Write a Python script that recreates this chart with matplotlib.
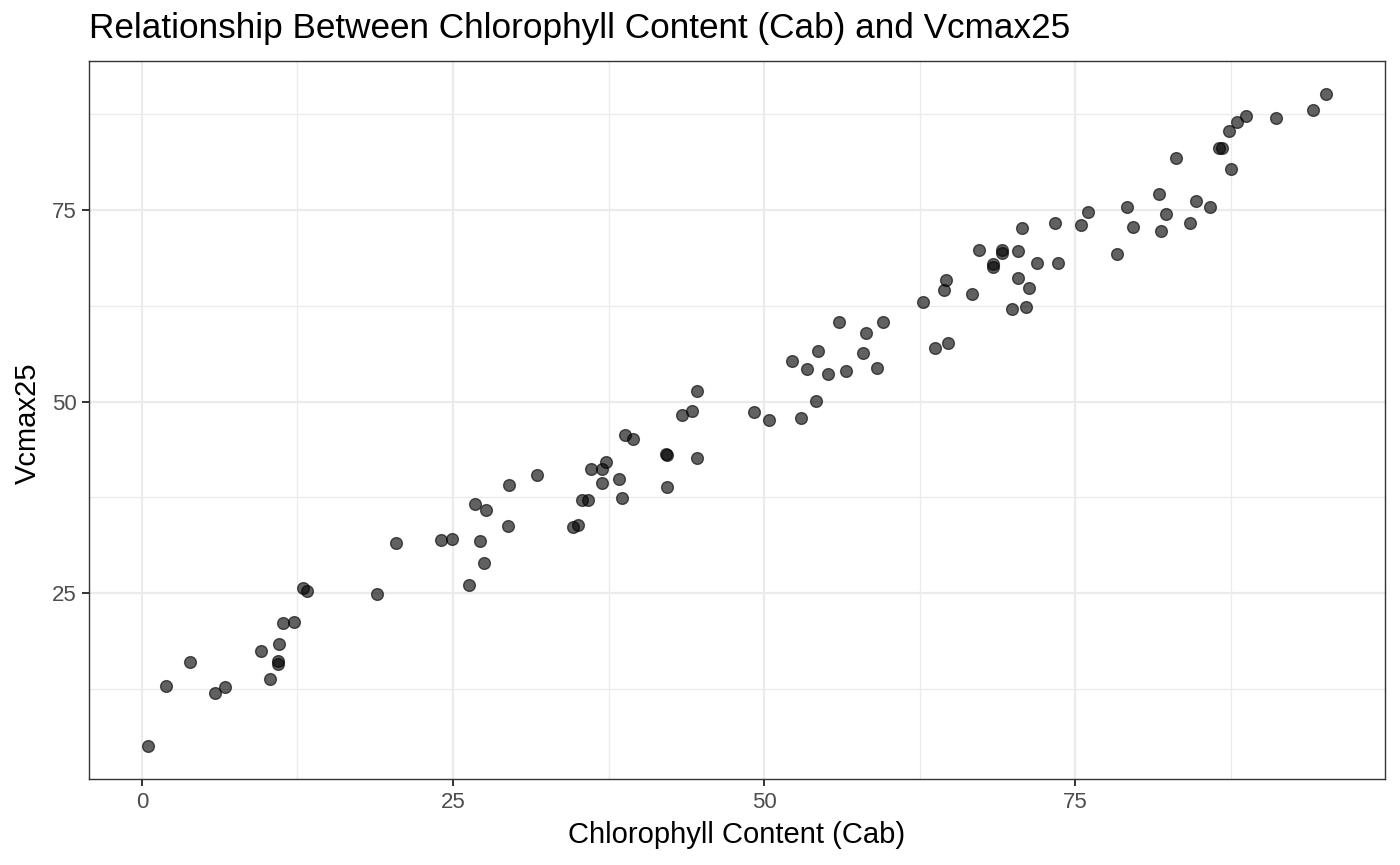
import matplotlib
matplotlib.use("Agg")
import matplotlib.pyplot as plt
from matplotlib.ticker import MultipleLocator

cab = [0.48, 1.95, 3.85, 5.89, 6.69, 9.56, 10.28, 10.97, 10.97, 11.0, 11.3, 12.2,
       12.95, 13.28, 18.87, 20.45, 24.0, 24.9, 26.28, 26.74, 27.17, 27.46, 27.68,
       29.42, 29.5, 31.78, 34.61, 35.07, 35.33, 35.87, 36.08, 37.0, 37.0, 37.26,
       38.33, 38.57, 38.84, 39.48, 42.13, 42.18, 42.18, 43.42, 44.22, 44.59, 44.62,
       49.15, 50.43, 52.25, 52.97, 53.45, 54.18, 54.36, 55.14, 56.05, 56.6, 57.98,
       58.22, 59.05, 59.58, 62.8, 63.73, 64.46, 64.59, 64.78, 66.73, 67.27, 68.36,
       68.36, 69.08, 69.08, 69.92, 70.4, 70.4, 70.69, 71.01, 71.31, 71.93, 73.34,
       73.64, 75.46, 75.99, 78.32, 79.15, 79.61, 81.75, 81.88, 82.26, 83.06, 84.24,
       84.72, 85.84, 86.56, 86.83, 87.37, 87.55, 87.98, 88.73, 91.12, 94.11, 95.16]
vcmax = [5.0, 12.93, 16.0, 11.94, 12.76, 17.5, 13.84, 16.15, 15.8, 18.36, 21.1, 21.2,
         25.65, 25.3, 24.83, 31.5, 31.9, 32.07, 26.0, 36.6, 31.86, 28.95, 35.8,
         33.8, 39.1, 40.4, 33.6, 33.85, 37.2, 37.2, 41.24, 41.15, 39.36, 42.15,
         39.93, 37.37, 45.66, 45.14, 43.1, 43.0, 38.9, 48.2, 48.74, 42.58, 51.4,
         48.7, 47.6, 55.34, 47.9, 54.26, 50.04, 56.64, 53.6, 60.4, 54.0, 56.34,
         58.9, 54.39, 60.42, 62.98, 56.99, 64.62, 65.93, 57.64, 64.1, 69.8, 68.0,
         67.58, 69.8, 69.4, 62.1, 69.62, 66.19, 72.7, 62.33, 64.84, 68.06, 73.27,
         68.14, 73.1, 74.7, 69.3, 75.35, 72.79, 77.08, 72.23, 74.44, 81.77, 73.35,
         76.17, 75.35, 83.07, 83.07, 85.33, 80.34, 86.5, 87.33, 87.0, 88.11, 90.2]

title = "Relationship Between Chlorophyll Content (Cab) and Vcmax25"
xlabel = "Chlorophyll Content (Cab)"
ylabel = "Vcmax25"

plt.rcParams['font.family'] = ['Liberation Sans', 'DejaVu Sans']

W, H = 1400, 865
fig = plt.figure(figsize=(W/100, H/100), dpi=100)
L, R, T, B = 89, 1385, 61, 779
ax = fig.add_axes([L/W, (H-B)/H, (R-L)/W, (B-T)/H])

ax.scatter(cab, vcmax, s=72, facecolors='black', edgecolors='black',
           linewidths=1.0, alpha=0.62, zorder=3)

xr = max(cab) - min(cab)
yr = max(vcmax) - min(vcmax)
ax.set_xlim(min(cab) - 0.05*xr, max(cab) + 0.05*xr)
ax.set_ylim(min(vcmax) - 0.05*yr, max(vcmax) + 0.05*yr)

ax.xaxis.set_major_locator(MultipleLocator(25))
ax.yaxis.set_major_locator(MultipleLocator(25))
ax.xaxis.set_minor_locator(MultipleLocator(12.5))
ax.yaxis.set_minor_locator(MultipleLocator(12.5))
ax.grid(which='major', color='#EBEBEB', linewidth=1.6, zorder=0)
ax.grid(which='minor', color='#EBEBEB', linewidth=0.9, zorder=0)
ax.set_axisbelow(True)

ax.tick_params(which='major', length=5.0, width=1.4, color='#333333',
               labelcolor='#4D4D4D', labelsize=16, pad=4)
ax.tick_params(which='minor', length=0)
for sp in ax.spines.values():
    sp.set_color('#333333')
    sp.set_linewidth(1.0)

fig.text((L+R)/2/W, 1 - 843/H, xlabel, fontsize=21, color='black',
         ha='center', va='baseline')
fig.text(28/W, 1 - 423/H, ylabel, fontsize=21, color='black',
         ha='center', va='center', rotation=90)
fig.text(L/W, 1 - 38/H, title, fontsize=25.3, color='black',
         ha='left', va='baseline')

fig.savefig("out.png", dpi=100)
